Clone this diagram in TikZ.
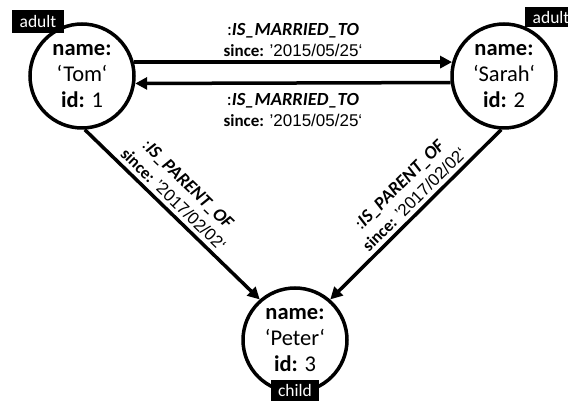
\documentclass[tikz,border=0pt]{standalone}
\usepackage{fontspec}
\setmainfont{Carlito}
\newfontfamily\datefont{Liberation Sans}
\usetikzlibrary{arrows.meta}

\newcommand{\relname}[1]{:\textbf{\textit{#1}}}
\newcommand{\sincedate}[1]{{\fontsize{17}{21}\selectfont\textbf{since:}} {\datefont\fontsize{17}{21}\selectfont #1}}

\begin{document}
\begin{tikzpicture}[
    x=1pt, y=-1pt,
    >={Triangle[length=12pt, width=12pt]},
    person/.style   = {draw, circle, line width=3.5pt, minimum size=104pt, inner sep=0pt,
                       align=center, font=\fontsize{22.5}{26}\selectfont},
    tagbox/.style   = {fill=black, text=white, inner sep=0pt, minimum width=52pt,
                       minimum height=22pt, font=\fontsize{17.5}{17.5}\selectfont},
    rel/.style      = {->, line width=3.5pt},
    rellabel/.style = {align=center, inner sep=4pt, font=\fontsize{18.5}{21}\selectfont},
  ]
  \useasboundingbox (0,0) rectangle (568,403);

  % Knoten
  \node[person] (tom)   at (82,76)   {\textbf{name:}\\‘Tom‘\\\textbf{id:} 1};
  \node[person] (sarah) at (504,76)  {\textbf{name:}\\‘Sarah‘\\\textbf{id:} 2};
  \node[person] (peter) at (295,340) {\textbf{name:}\\‘Peter‘\\\textbf{id:} 3};

  % Labels
  \node[tagbox, minimum height=23pt] (tomtag) at (38,21.5) {adult};
  \node[tagbox, minimum height=20pt] (sarahtag) at (551,17) {adult};
  \node[tagbox, minimum width=48pt, minimum height=21pt] (petertag) at (295,390.5) {child};

  % Kanten
  \draw[rel] (tom.15) -- (sarah.165)
    node[midway, above, rellabel] {\relname{IS\_MARRIED\_TO}\\\sincedate{’2015/05/25‘}};
  \draw[rel] (sarah.187.5) -- (tom.352.5)
    node[midway, below=5pt, rellabel] {\relname{IS\_MARRIED\_TO}\\\sincedate{’2015/05/25‘}};
  \draw[rel] (tom.273) -- (peter.131)
    node[pos=0.46, sloped, above, rellabel] {\relname{IS\_PARENT\_OF}\\\sincedate{’2017/02/02‘}};
  \draw[rel] (sarah.267) -- (peter.49)
    node[pos=0.46, sloped, above, rellabel] {\relname{IS\_PARENT\_OF}\\\sincedate{’2017/02/02‘}};

\end{tikzpicture}
\end{document}
